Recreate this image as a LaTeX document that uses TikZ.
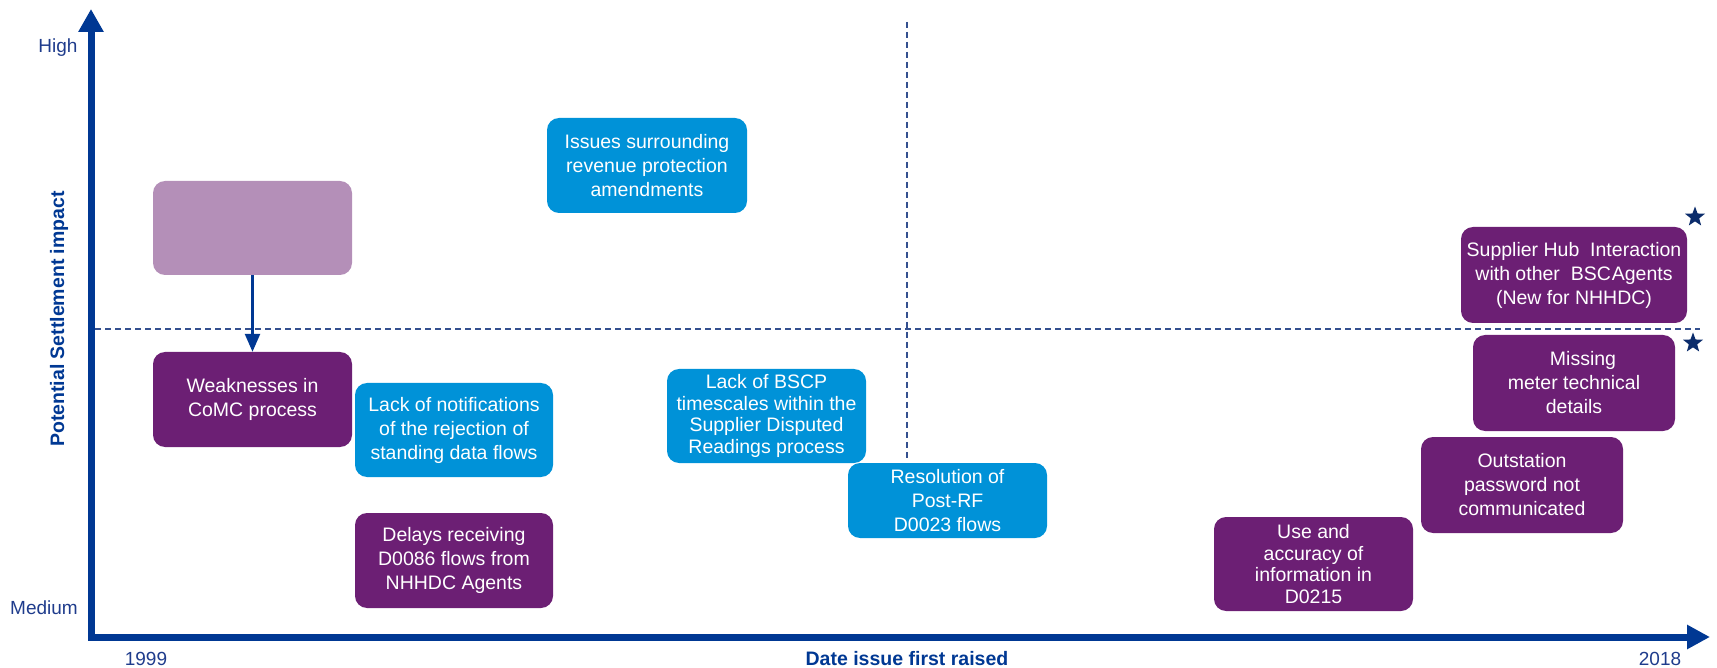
\documentclass[tikz,border=0pt]{standalone}
\usepackage{fontspec}
\setmainfont{Liberation Sans}
\usetikzlibrary{arrows.meta,shapes.geometric}
\definecolor{axisblue}{HTML}{003893}
\definecolor{labelblue}{HTML}{1F3C8C}
\definecolor{dashblue}{HTML}{34508F}
\definecolor{darkpurple}{HTML}{6C1F74}
\definecolor{lightpurple}{HTML}{B48FB8}
\definecolor{boxblue}{HTML}{0092D8}
\definecolor{starblue}{HTML}{0B2C6B}
\tikzset{
  issue/.style={rounded corners=12pt, inner sep=0pt, align=center, text=white,
    font=\fontsize{19.5}{24}\selectfont, minimum width=199pt, minimum height=94pt},
  purplebox/.style={issue, fill=darkpurple},
  bluebox/.style={issue, fill=boxblue},
  fourline/.style={font=\fontsize{19.5}{21.5}\selectfont},
  axislabel/.style={text=labelblue, font=\fontsize{19}{22}\selectfont},
  axistitle/.style={text=axisblue, font=\fontsize{19.5}{22}\selectfont\bfseries},
  guide/.style={dashblue, line width=1.3pt, dash pattern=on 6pt off 4pt},
  starmark/.style={star, star points=5, star point ratio=2.4, fill=starblue, draw=none,
    inner sep=0pt, minimum size=21pt}
}
\begin{document}
\begin{tikzpicture}[x=1pt,y=-1pt]
\useasboundingbox (0,0) rectangle (1717,668);
% guide lines
\draw[guide] (95,329) -- (1700,329);
\draw[guide] (907,22) -- (907,460);
% axes
\coordinate (ytip) at (91,9);
\coordinate (O) at (91,637);
\coordinate (xtip) at (1710,637);
\draw[axisblue, line width=7pt, {Triangle[width=24pt,length=23pt]}-{Triangle[width=23pt,length=23pt]}]
  (ytip) -- (O) -- (xtip);
% axis texts
\node[axislabel] (high) at (58,48) {High};
\node[axislabel] (medium) at (44,608) {Medium};
\node[axislabel] (y1999) at (146,659) {1999};
\node[axislabel] (y2018) at (1660,659) {2018};
\node[axistitle] (xtitle) at (907,659) {Date issue first raised};
\node[axistitle, rotate=90] (ytitle) at (59,319) {Potential Settlement impact};
% boxes
\node[issue, fill=lightpurple] (lp) at (252.5,228) {};
\node[purplebox, minimum height=95pt] (weak) at (252.5,399.5) {Weaknesses in\\CoMC process};
\node[bluebox, minimum width=198pt] (lackn) at (454,430) {Lack of notifications\\of the rejection of\\standing data flows};
\node[purplebox, minimum width=198pt, minimum height=95pt] (delays) at (454,560.5) {Delays receiving\\D0086 flows from\\NHHDC Agents};
\node[bluebox, minimum width=200pt, minimum height=95pt] (issues) at (647,165.5) {Issues surrounding\\revenue protection\\amendments};
\node[bluebox, fourline] (bscp) at (766.5,416) {Lack of BSCP\\timescales within the\\Supplier Disputed\\Readings process};
\node[bluebox, minimum height=75pt] (resol) at (947.5,500.5) {Resolution of\\Post-RF\\D0023 flows};
\node[purplebox, fourline] (use) at (1313.5,564) {Use and\\accuracy of\\information in\\D0215};
\node[purplebox, minimum width=202pt, minimum height=96pt] (outst) at (1522,485) {Outstation\\password not\hspace{13pt}\\communicated};
\node[purplebox, minimum width=202pt, minimum height=96pt] (missing) at (1574,383) {\hspace*{18pt}Missing\\meter technical\\details};
\node[purplebox, minimum width=226pt, minimum height=96pt] (supplier) at (1574,275) {Supplier Hub\ \ Interaction\\with other\ \ BSC\hspace{1pt}Agents\\(New for NHHDC)};
% connector
\draw[axisblue, line width=2.5pt, -{Triangle[width=15pt,length=18pt]}] (lp.south) -- (weak.north);
% stars
\node[starmark] (star1) at (1695,217) {};
\node[starmark] (star2) at (1693,343) {};
\end{tikzpicture}
\end{document}
